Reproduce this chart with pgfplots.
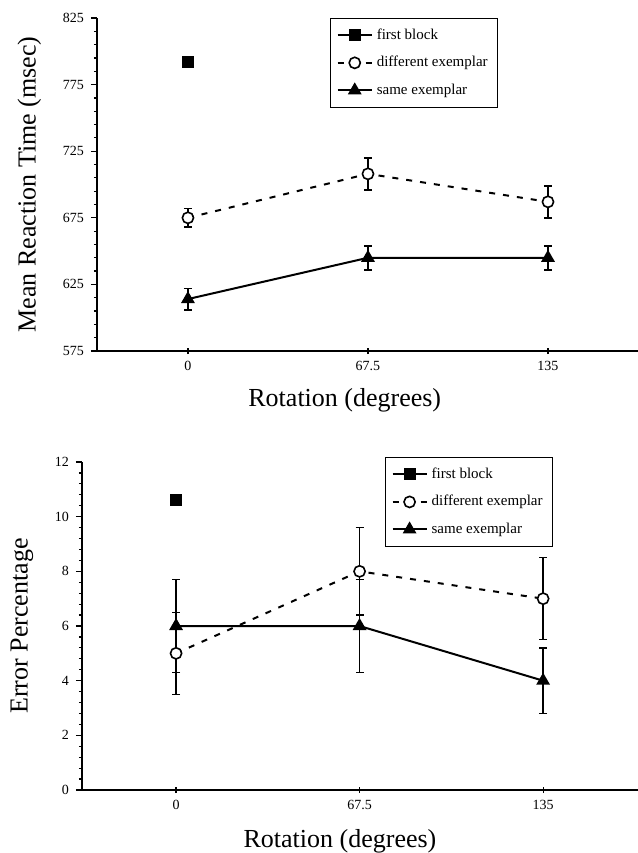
\documentclass[border=0pt]{standalone}
\usepackage{fontspec}
\setmainfont{Liberation Serif}
\usepackage{pgfplots}
\pgfplotsset{compat=1.18}

\pgfplotsset{
  panel/.style={
    scale only axis,
    axis lines*=left,
    axis line style={line width=0.9pt},
    xtick={0,67.5,135},
    xticklabels={0,67.5,135},
    xtick align=center,
    ytick align=outside,
    major tick length=3pt,
    minor tick length=1.6pt,
    minor y tick num=4,
    tick style={black, line width=0.6pt},
    /pgf/number format/assume math mode=true,
    tick label style={font=\fontsize{7}{8}\selectfont},
    label style={font=\fontsize{13}{15}\selectfont},
    legend cell align=left,
    legend style={draw=black, line width=0.5pt, font=\fontsize{7.5}{9}\selectfont,
      row sep=3pt, inner xsep=3pt, inner ysep=3pt},
    error bars/error bar style={solid, line width=0.8pt},
    error bars/error mark options={solid, rotate=90, mark size=2pt, line width=0.8pt},
  },
  first/.style={black, line width=1pt, mark=square*, mark size=2.5pt},
  diff/.style={black, line width=1pt, dash pattern=on 3pt off 4pt, mark=*,
    mark size=2.8pt, mark options={solid, fill=white, draw=black, line width=0.8pt},
    error bars/.cd, y dir=both, y explicit},
  same/.style={black, line width=1pt, mark=triangle*, mark size=3pt,
    mark options={solid}, error bars/.cd, y dir=both, y explicit},
}

\begin{document}
\begin{tikzpicture}
\path[use as bounding box] (0,0) rectangle (319pt,-426.5pt);

% reaction time
\begin{axis}[panel,
  at={(48.5pt,-175.5pt)}, anchor=south west,
  width=270.5pt, height=166.5pt,
  xmin=-34.1, xmax=168.75,
  ymin=575, ymax=825,
  ytick={575,625,675,725,775,825},
  ylabel={Mean Reaction Time (msec)},
  xlabel={Rotation (degrees)},
  ylabel style={at={(axis description cs:-0.125,0.5)}, anchor=center},
  xlabel style={at={(axis description cs:0.458,-0.09)}, anchor=north},
  legend style={at={(axis description cs:0.431,1.0)}, anchor=north west},
]
\addplot[first] coordinates {(0,792)};
\addplot[diff] coordinates {(0,675) +- (0,7) (67.5,708) +- (0,12) (135,687) +- (0,12)};
\addplot[same] coordinates {(0,614) +- (0,8) (67.5,645) +- (0,9) (135,645) +- (0,9)};
\legend{first block, different exemplar, same exemplar}
\end{axis}

% error percentage
\begin{axis}[panel,
  at={(41pt,-395pt)}, anchor=south west,
  width=278pt, height=164pt,
  xmin=-34.6, xmax=169.9,
  ymin=0, ymax=12,
  ytick={0,2,4,6,8,10,12},
  ylabel={Error Percentage},
  xlabel={Rotation (degrees)},
  ylabel style={at={(axis description cs:-0.108,0.5)}, anchor=center},
  xlabel style={at={(axis description cs:0.464,-0.1)}, anchor=north},
  legend style={at={(axis description cs:0.545,1.015)}, anchor=north west},
]
\addplot[first] coordinates {(0,10.6)};
\addplot[diff] coordinates {(0,5) +- (0,1.5) (67.5,8) +- (0,1.6) (135,7) +- (0,1.5)};
\addplot[same] coordinates {(0,6) +- (0,1.7) (67.5,6) +- (0,1.7) (135,4) +- (0,1.2)};
\legend{first block, different exemplar, same exemplar}
\end{axis}
\end{tikzpicture}
\end{document}
